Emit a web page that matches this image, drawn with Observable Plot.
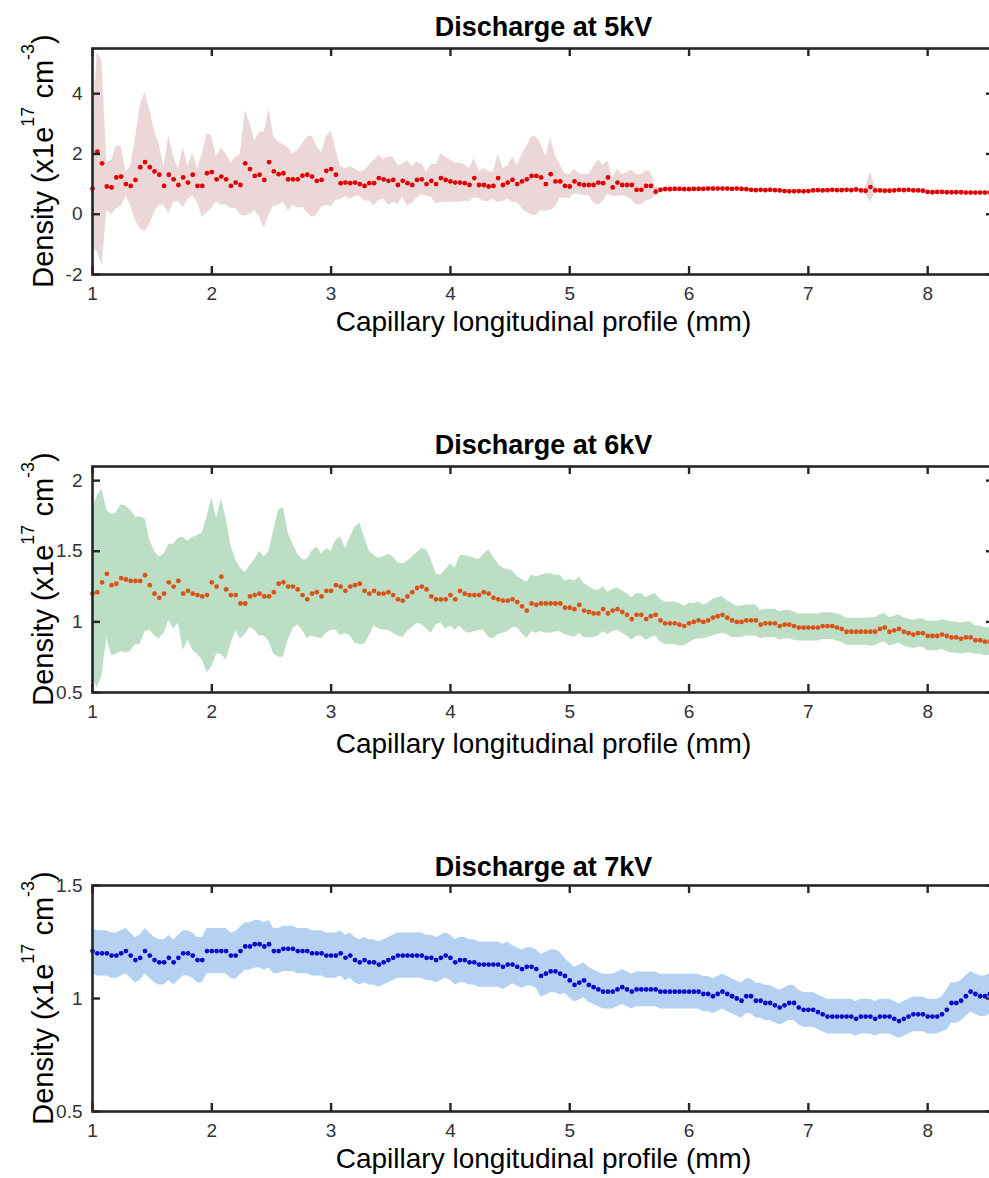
<!DOCTYPE html>
<html><head><meta charset="utf-8">
<script src="https://cdn.jsdelivr.net/npm/d3@7"></script>
<script src="https://cdn.jsdelivr.net/npm/@observablehq/plot@0.6"></script>
<style>
html,body{margin:0;padding:0;background:#fff;}
#wrap{position:relative;width:989px;height:1178px;overflow:hidden;background:#fff;}
.panel{position:absolute;left:0;width:1000px;}
.panel svg{max-width:none !important;}
</style></head><body><div id="wrap"></div>
<script>
// ---- data ----
const xStart = 1.0;      // first sample (mm)
const xStep = 0.04;      // sampling step (mm)
const xDomain = [1, 8.56];
const xTicks = [1, 2, 3, 4, 5, 6, 7, 8];
const xLabel = "Capillary longitudinal profile (mm)";

const titles = ["Discharge at 5kV", "Discharge at 6kV", "Discharge at 7kV"];

const yTicks5 = [-2, 0, 2, 4];
const yTicks6 = [0.5, 1, 1.5, 2];
const yTicks7 = [0.5, 1, 1.5];
const yDomain5 = [-2, 5.5];
const yDomain6 = [0.5, 2.1];
const yDomain7 = [0.5, 1.5];

const y5 = [0.85, 2.08, 1.69, 0.92, 0.89, 1.22, 1.25, 1.00, 0.94, 1.14,
 1.56, 1.73, 1.56, 1.42, 1.31, 0.94, 1.31, 1.16, 0.97, 1.22,
 1.05, 1.31, 0.94, 0.94, 1.36, 1.40, 1.16, 1.25, 1.16, 0.94,
 1.05, 0.97, 1.69, 1.50, 1.27, 1.31, 1.14, 1.73, 1.42, 1.33,
 1.36, 1.16, 1.16, 1.16, 1.28, 1.31, 1.25, 1.11, 1.14, 1.44,
 1.50, 1.31, 1.03, 1.05, 1.03, 1.05, 1.00, 0.94, 1.03, 1.03,
 1.20, 1.16, 1.11, 1.14, 0.97, 1.11, 1.03, 0.97, 1.14, 1.16,
 1.00, 1.11, 1.00, 1.20, 1.14, 1.09, 1.05, 1.05, 1.03, 0.97,
 1.20, 0.97, 0.97, 0.92, 0.94, 1.20, 0.97, 1.05, 1.14, 1.00,
 1.09, 1.16, 1.27, 1.27, 1.22, 1.00, 1.33, 1.09, 1.09, 0.94,
 0.92, 1.09, 1.00, 0.97, 0.97, 0.97, 1.05, 1.03, 1.22, 0.89,
 1.05, 0.97, 0.97, 0.97, 0.81, 0.81, 0.94, 0.94, 0.75, 0.81,
 0.83, 0.83, 0.84, 0.84, 0.83, 0.83, 0.84, 0.84, 0.84, 0.85,
 0.85, 0.85, 0.85, 0.85, 0.84, 0.85, 0.84, 0.83, 0.81, 0.80,
 0.81, 0.80, 0.81, 0.80, 0.79, 0.77, 0.76, 0.76, 0.77, 0.76,
 0.77, 0.79, 0.80, 0.79, 0.80, 0.81, 0.80, 0.80, 0.81, 0.80,
 0.82, 0.79, 0.78, 0.90, 0.79, 0.79, 0.78, 0.78, 0.79, 0.81,
 0.80, 0.81, 0.79, 0.79, 0.78, 0.74, 0.73, 0.74, 0.74, 0.73,
 0.73, 0.73, 0.73, 0.72, 0.72, 0.72, 0.72, 0.72, 0.72, 0.72];

const err5 = [2.0, 3.3, 3.4, 0.8, 0.9, 1.05, 1.0, 0.4, 0.65, 1.35,
 2.05, 2.3, 1.9, 1.35, 1.0, 0.65, 1.3, 0.75, 0.55, 1.0,
 0.55, 0.7, 0.55, 1.05, 1.3, 1.2, 0.75, 0.95, 0.85, 0.75,
 0.85, 1.0, 1.75, 1.5, 1.15, 1.4, 1.6, 1.75, 1.15, 1.05,
 0.95, 1.05, 0.85, 0.95, 1.05, 1.25, 1.35, 1.15, 0.9, 1.15,
 1.25, 0.85, 0.55, 0.45, 0.55, 0.45, 0.4, 0.5, 0.6, 0.75,
 0.75, 0.65, 0.8, 0.75, 0.65, 0.55, 0.75, 0.6, 0.6, 0.5,
 0.4, 0.55, 0.65, 0.8, 0.75, 0.7, 0.65, 0.65, 0.6, 0.55,
 0.65, 0.45, 0.55, 0.5, 0.45, 0.8, 0.55, 0.55, 0.75, 0.6,
 0.9, 1.1, 1.3, 1.3, 1.1, 0.9, 1.2, 0.85, 0.55, 0.4,
 0.4, 0.4, 0.35, 0.35, 0.35, 0.6, 0.75, 0.6, 0.55, 0.3,
 0.45, 0.35, 0.4, 0.5, 0.5, 0.5, 0.5, 0.45, 0.15, 0.07,
 0.07, 0.07, 0.07, 0.07, 0.07, 0.07, 0.07, 0.07, 0.07, 0.07,
 0.07, 0.06, 0.06, 0.06, 0.06, 0.06, 0.06, 0.05, 0.05, 0.05,
 0.05, 0.05, 0.05, 0.05, 0.05, 0.05, 0.05, 0.05, 0.05, 0.05,
 0.05, 0.05, 0.05, 0.05, 0.05, 0.05, 0.05, 0.05, 0.05, 0.05,
 0.05, 0.06, 0.1, 0.5, 0.1, 0.05, 0.05, 0.05, 0.05, 0.05,
 0.05, 0.05, 0.05, 0.05, 0.05, 0.05, 0.05, 0.05, 0.05, 0.05,
 0.05, 0.05, 0.05, 0.05, 0.05, 0.05, 0.05, 0.05, 0.05, 0.05];

const y6 = [1.20, 1.21, 1.28, 1.34, 1.26, 1.27, 1.31, 1.30, 1.29, 1.29,
 1.29, 1.33, 1.26, 1.20, 1.17, 1.20, 1.28, 1.25, 1.29, 1.20,
 1.22, 1.20, 1.19, 1.18, 1.19, 1.28, 1.25, 1.32, 1.23, 1.19,
 1.19, 1.13, 1.13, 1.18, 1.19, 1.20, 1.18, 1.18, 1.21, 1.27,
 1.28, 1.25, 1.25, 1.23, 1.19, 1.16, 1.20, 1.21, 1.18, 1.22,
 1.22, 1.26, 1.25, 1.22, 1.25, 1.26, 1.27, 1.22, 1.20, 1.22,
 1.20, 1.20, 1.21, 1.19, 1.16, 1.15, 1.18, 1.21, 1.24, 1.25,
 1.23, 1.18, 1.16, 1.16, 1.16, 1.19, 1.16, 1.22, 1.20, 1.19,
 1.19, 1.19, 1.21, 1.20, 1.17, 1.16, 1.15, 1.15, 1.16, 1.14,
 1.11, 1.08, 1.13, 1.12, 1.13, 1.13, 1.13, 1.13, 1.13, 1.10,
 1.10, 1.09, 1.12, 1.08, 1.07, 1.06, 1.06, 1.09, 1.06, 1.08,
 1.09, 1.07, 1.05, 1.02, 1.05, 1.05, 1.02, 1.04, 1.05, 1.01,
 0.99, 0.99, 0.99, 0.98, 0.97, 0.99, 1.00, 1.01, 1.00, 1.01,
 1.03, 1.04, 1.05, 1.03, 1.01, 1.00, 1.00, 1.01, 1.01, 1.01,
 0.98, 0.99, 0.99, 0.99, 0.97, 0.98, 0.98, 0.97, 0.96, 0.96,
 0.96, 0.96, 0.96, 0.97, 0.97, 0.97, 0.96, 0.95, 0.93, 0.93,
 0.93, 0.93, 0.93, 0.93, 0.93, 0.95, 0.96, 0.93, 0.94, 0.95,
 0.93, 0.92, 0.91, 0.92, 0.92, 0.90, 0.90, 0.90, 0.91, 0.90,
 0.89, 0.89, 0.88, 0.89, 0.89, 0.87, 0.87, 0.86, 0.86, 0.86];

const err6 = [0.6, 0.68, 0.66, 0.45, 0.5, 0.5, 0.52, 0.52, 0.5, 0.45,
 0.45, 0.4, 0.32, 0.3, 0.29, 0.28, 0.27, 0.3, 0.3, 0.4,
 0.35, 0.4, 0.42, 0.45, 0.55, 0.6, 0.48, 0.55, 0.5, 0.35,
 0.25, 0.25, 0.22, 0.22, 0.25, 0.3, 0.28, 0.32, 0.44, 0.52,
 0.53, 0.38, 0.3, 0.25, 0.25, 0.28, 0.3, 0.32, 0.3, 0.3,
 0.28, 0.32, 0.35, 0.3, 0.35, 0.41, 0.43, 0.38, 0.3, 0.25,
 0.25, 0.26, 0.27, 0.27, 0.26, 0.26, 0.25, 0.25, 0.25, 0.27,
 0.28, 0.26, 0.18, 0.17, 0.21, 0.22, 0.22, 0.25, 0.27, 0.27,
 0.26, 0.25, 0.27, 0.31, 0.29, 0.25, 0.23, 0.22, 0.2, 0.18,
 0.19, 0.2, 0.2, 0.2, 0.2, 0.21, 0.21, 0.2, 0.2, 0.19,
 0.2, 0.2, 0.2, 0.19, 0.18, 0.17, 0.16, 0.16, 0.15, 0.15,
 0.15, 0.15, 0.15, 0.15, 0.15, 0.15, 0.15, 0.15, 0.15, 0.15,
 0.15, 0.15, 0.15, 0.15, 0.14, 0.14, 0.13, 0.13, 0.12, 0.12,
 0.13, 0.13, 0.13, 0.12, 0.12, 0.11, 0.11, 0.11, 0.11, 0.11,
 0.1, 0.1, 0.1, 0.1, 0.1, 0.1, 0.1, 0.1, 0.095, 0.095,
 0.095, 0.095, 0.095, 0.095, 0.095, 0.095, 0.095, 0.095, 0.095, 0.095,
 0.095, 0.095, 0.095, 0.1, 0.1, 0.1, 0.1, 0.1, 0.1, 0.1,
 0.1, 0.1, 0.1, 0.1, 0.1, 0.105, 0.105, 0.105, 0.105, 0.11,
 0.11, 0.11, 0.11, 0.11, 0.11, 0.1, 0.1, 0.1, 0.095, 0.095];

const y7 = [1.21, 1.20, 1.20, 1.20, 1.19, 1.19, 1.20, 1.21, 1.19, 1.17,
 1.18, 1.21, 1.19, 1.17, 1.16, 1.16, 1.18, 1.16, 1.18, 1.20,
 1.20, 1.19, 1.17, 1.17, 1.21, 1.21, 1.21, 1.21, 1.21, 1.19,
 1.19, 1.21, 1.23, 1.23, 1.24, 1.24, 1.23, 1.24, 1.21, 1.21,
 1.22, 1.22, 1.22, 1.21, 1.21, 1.21, 1.20, 1.20, 1.20, 1.19,
 1.19, 1.19, 1.20, 1.18, 1.19, 1.17, 1.16, 1.17, 1.16, 1.16,
 1.15, 1.16, 1.17, 1.18, 1.19, 1.19, 1.19, 1.19, 1.19, 1.19,
 1.18, 1.18, 1.17, 1.18, 1.19, 1.18, 1.16, 1.17, 1.17, 1.16,
 1.16, 1.15, 1.15, 1.15, 1.15, 1.15, 1.14, 1.15, 1.15, 1.14,
 1.13, 1.14, 1.14, 1.13, 1.10, 1.11, 1.12, 1.12, 1.11, 1.10,
 1.08, 1.06, 1.07, 1.08, 1.06, 1.05, 1.04, 1.03, 1.03, 1.03,
 1.04, 1.05, 1.04, 1.03, 1.04, 1.04, 1.04, 1.04, 1.04, 1.03,
 1.03, 1.03, 1.03, 1.03, 1.03, 1.03, 1.03, 1.03, 1.02, 1.02,
 1.01, 1.02, 1.03, 1.02, 1.01, 1.00, 0.99, 1.01, 1.01, 0.99,
 0.99, 0.98, 0.98, 0.97, 0.96, 0.97, 0.98, 0.98, 0.96, 0.95,
 0.95, 0.95, 0.94, 0.93, 0.92, 0.92, 0.92, 0.92, 0.92, 0.92,
 0.91, 0.92, 0.92, 0.92, 0.91, 0.92, 0.92, 0.92, 0.91, 0.90,
 0.91, 0.92, 0.93, 0.93, 0.93, 0.92, 0.92, 0.92, 0.93, 0.95,
 0.98, 0.98, 0.99, 1.01, 1.03, 1.02, 1.01, 1.01, 1.02, 1.03];

const err7 = [0.10, 0.10, 0.10, 0.10, 0.10, 0.10, 0.10, 0.10, 0.10, 0.10,
 0.10, 0.10, 0.10, 0.10, 0.10, 0.10, 0.10, 0.10, 0.10, 0.10,
 0.10, 0.10, 0.10, 0.10, 0.10, 0.10, 0.10, 0.10, 0.10, 0.10,
 0.105, 0.105, 0.105, 0.105, 0.105, 0.105, 0.105, 0.105, 0.10, 0.10,
 0.10, 0.10, 0.10, 0.10, 0.10, 0.10, 0.10, 0.10, 0.10, 0.10,
 0.10, 0.10, 0.10, 0.10, 0.10, 0.10, 0.10, 0.10, 0.10, 0.10,
 0.10, 0.10, 0.10, 0.10, 0.10, 0.10, 0.10, 0.10, 0.10, 0.10,
 0.10, 0.10, 0.10, 0.10, 0.10, 0.10, 0.10, 0.10, 0.10, 0.10,
 0.10, 0.10, 0.10, 0.10, 0.10, 0.10, 0.10, 0.10, 0.085, 0.085,
 0.085, 0.085, 0.085, 0.085, 0.095, 0.095, 0.095, 0.095, 0.095, 0.077,
 0.077, 0.077, 0.077, 0.077, 0.077, 0.077, 0.077, 0.077, 0.077, 0.077,
 0.077, 0.077, 0.077, 0.077, 0.077, 0.077, 0.077, 0.077, 0.077, 0.077,
 0.077, 0.077, 0.077, 0.077, 0.077, 0.077, 0.077, 0.077, 0.077, 0.077,
 0.077, 0.077, 0.077, 0.077, 0.077, 0.077, 0.077, 0.077, 0.077, 0.077,
 0.077, 0.077, 0.077, 0.077, 0.077, 0.077, 0.077, 0.077, 0.077, 0.077,
 0.077, 0.077, 0.077, 0.077, 0.077, 0.077, 0.077, 0.077, 0.077, 0.077,
 0.077, 0.077, 0.077, 0.077, 0.077, 0.077, 0.077, 0.077, 0.077, 0.077,
 0.077, 0.077, 0.077, 0.077, 0.077, 0.077, 0.077, 0.077, 0.077, 0.09,
 0.09, 0.09, 0.09, 0.09, 0.09, 0.09, 0.09, 0.09, 0.09, 0.09];

// ---- styling / layout ----
const ink = "#262626";
const tickInk = "#333333";
const fontFamily = "'Liberation Sans', Arial, Helvetica, sans-serif";
const W = 1000, ML = 92, MR = 6, MT = 48, MB = 70, FH = 226;
const FW = W - ML - MR;
const TL = 8; // tick length (inward)

const panels = [
  {title: titles[0], y: y5, err: err5, domain: yDomain5, ticks: yTicks5,
   band: "#ebd7d7", dot: "#e00000", top: 0, titleDy: -21, labelDy: 48},
  {title: titles[1], y: y6, err: err6, domain: yDomain6, ticks: yTicks6,
   band: "#bcdec4", dot: "#d95319", top: 418, titleDy: -21.5, labelDy: 52},
  {title: titles[2], y: y7, err: err7, domain: yDomain7, ticks: yTicks7,
   band: "#b4d1f2", dot: "#0a0ac8", top: 837, titleDy: -18, labelDy: 48}
];

const wrap = document.getElementById("wrap");

for (const p of panels) {
  const data = p.y.map((v, i) => ({x: xStart + i * xStep, y: v, e: p.err[i]}));
  const svg = Plot.plot({
    width: W, height: MT + FH + MB,
    marginTop: MT, marginBottom: MB, marginLeft: ML, marginRight: MR,
    x: {domain: xDomain},
    y: {domain: p.domain},
    style: {fontFamily, color: tickInk, background: "transparent", overflow: "visible", maxWidth: "none"},
    marks: [
      Plot.areaY(data, {x: "x", y1: d => d.y - d.e, y2: d => d.y + d.e, fill: p.band, curve: "linear"}),
      Plot.dot(data, {x: "x", y: "y", r: 2.4, fill: p.dot, stroke: "none"}),
      Plot.tickX(xTicks, {x: d => d, insetTop: FH - TL, stroke: ink, strokeWidth: 2.4}),
      Plot.tickX(xTicks, {x: d => d, insetBottom: FH - TL, stroke: ink, strokeWidth: 2.4}),
      Plot.tickY(p.ticks, {y: d => d, insetRight: FW - TL, stroke: ink, strokeWidth: 2.4}),
      Plot.tickY(p.ticks, {y: d => d, insetLeft: FW - TL, stroke: ink, strokeWidth: 2.4}),
      Plot.frame({stroke: ink, strokeWidth: 2.6}),
      Plot.axisX(xTicks, {tickSize: 0, tickPadding: 12, fontSize: 19, tickFormat: d => String(d), label: null}),
      Plot.axisY(p.ticks, {tickSize: 0, tickPadding: 10, fontSize: 19, tickFormat: d => String(d), label: null}),
      Plot.text([p.title], {frameAnchor: "top", lineAnchor: "middle", dy: p.titleDy, text: d => d, fontSize: 27, fontWeight: "bold", fill: "#000"}),
      Plot.text([xLabel], {frameAnchor: "bottom", lineAnchor: "middle", dy: p.labelDy, text: d => d, fontSize: 28, fill: "#000"})
    ]
  });
  svg.style.maxWidth = "none";
  // y-axis label with superscripts
  const t = d3.select(svg).append("text")
    .attr("transform", `translate(53,${MT + FH / 2}) rotate(-90)`)
    .attr("text-anchor", "middle")
    .attr("font-family", fontFamily)
    .attr("font-size", 29)
    .attr("fill", "#000");
  t.append("tspan").text("Density (x1e");
  t.append("tspan").attr("dy", -19).attr("font-size", 18).text("17");
  t.append("tspan").attr("dy", 19).text(" cm");
  t.append("tspan").attr("dy", -19).attr("font-size", 18).text("-3");
  t.append("tspan").attr("dy", 19).text(")");

  const div = document.createElement("div");
  div.className = "panel";
  div.style.top = p.top + "px";
  div.appendChild(svg);
  wrap.appendChild(div);
}
</script>
</body></html>
